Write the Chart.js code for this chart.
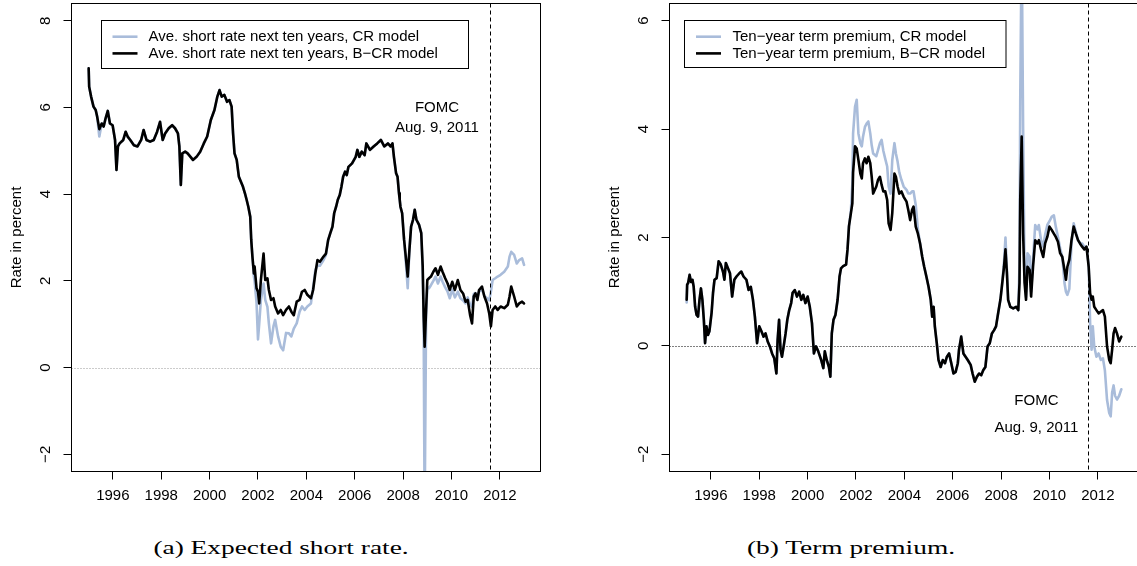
<!DOCTYPE html>
<html><head><meta charset="utf-8">
<script src="https://cdn.jsdelivr.net/npm/chart.js@4"></script>
<style>
html,body{margin:0;padding:0;background:#fff;overflow:hidden;width:1137px;height:566px;}
#ca{position:absolute;left:0;top:0;}
#cb{position:absolute;left:568px;top:0;}
.cap{position:absolute;top:536px;font-family:"Liberation Serif","DejaVu Serif",serif;font-size:19px;color:#000;white-space:nowrap;transform:translateX(-50%) scaleX(1.44);line-height:24px;}
</style></head><body>
<canvas id="ca" width="568" height="520"></canvas>
<canvas id="cb" width="580" height="520"></canvas>
<div class="cap" style="left:281px">(a) Expected short rate.</div>
<div class="cap" style="left:851px">(b) Term premium.</div>
<script>
// ---------- axis settings ----------
const xTicks = [1996,1998,2000,2002,2004,2006,2008,2010,2012];
const xMin = 1994.29, xMax = 2013.68;
const fomcDate = 2011.61;
const yTicksA = [-2,0,2,4,6,8];
const yTicksB = [-2,0,2,4,6];
const legendA = ["Ave. short rate next ten years, CR model","Ave. short rate next ten years, B\u2212CR model"];
const legendB = ["Ten\u2212year term premium, CR model","Ten\u2212year term premium, B\u2212CR model"];
const fomcLabel = ["FOMC","Aug. 9, 2011"];

// ---------- (a) expected short rate ----------
const datesA = [
1995.00,1995.02,1995.10,1995.20,1995.29,1995.35,1995.44,1995.54,1995.62,1995.70,1995.79,1995.88,1995.99,
1996.09,1996.15,1996.21,1996.28,1996.43,1996.53,1996.62,1996.72,1996.87,
1997.02,1997.17,1997.27,1997.39,1997.54,1997.69,1997.83,1997.95,
1998.06,1998.16,1998.31,1998.45,1998.57,1998.69,1998.75,1998.81,1998.87,1998.99,
1999.09,1999.21,1999.31,1999.46,1999.61,1999.76,1999.90,
2000.05,2000.20,2000.32,2000.41,2000.50,2000.61,2000.72,2000.82,2000.91,2000.97,
2001.03,2001.12,2001.21,2001.29,2001.38,2001.46,2001.53,2001.60,2001.68,2001.72,2001.77,2001.83,2001.86,2001.94,
2002.00,2002.05,2002.12,2002.23,2002.30,2002.39,2002.45,2002.54,2002.64,2002.71,2002.83,2002.94,
2003.04,2003.16,2003.28,2003.38,2003.48,2003.60,2003.72,2003.82,2003.93,
2004.04,2004.19,2004.28,2004.37,2004.46,2004.56,2004.71,2004.81,2004.90,2004.99,
2005.08,2005.15,2005.23,2005.30,2005.38,2005.45,2005.52,2005.60,2005.67,2005.74,2005.89,
2006.04,2006.11,2006.19,2006.29,2006.41,2006.48,2006.63,2006.78,2006.93,
2007.08,2007.22,2007.37,2007.48,2007.56,2007.62,2007.71,2007.77,2007.83,2007.86,2007.89,2007.96,
2008.04,2008.11,2008.19,2008.26,2008.33,2008.41,2008.48,2008.55,2008.66,2008.75,2008.81,2008.85,2008.89,2008.95,
2009.00,2009.07,2009.15,2009.25,2009.34,2009.44,2009.55,2009.63,2009.74,2009.84,2009.93,
2010.03,2010.14,2010.26,2010.37,2010.48,2010.58,2010.67,2010.77,2010.85,2010.92,2010.99,
2011.07,2011.14,2011.26,2011.36,2011.47,2011.56,2011.63,2011.70,2011.81,2011.91,
2012.03,2012.18,2012.33,2012.40,2012.47,2012.59,2012.70,2012.80,2012.92,2013.00];
const shortBCR = [
6.90,6.48,6.25,6.02,5.94,5.79,5.50,5.63,5.56,5.75,5.92,5.63,5.59,
5.25,4.56,5.10,5.17,5.25,5.44,5.32,5.25,5.13,
5.10,5.25,5.48,5.25,5.21,5.25,5.44,5.67,
5.25,5.40,5.52,5.59,5.52,5.40,5.10,4.21,4.94,4.98,
4.94,4.86,4.79,4.86,4.98,5.17,5.33,
5.71,5.94,6.25,6.40,6.25,6.29,6.13,6.17,6.02,5.40,
4.94,4.79,4.40,4.29,4.17,4.02,3.87,3.71,3.48,2.95,2.56,2.17,2.33,1.83,
1.75,1.48,2.02,2.63,2.02,2.06,1.79,1.56,1.60,1.41,1.25,1.33,
1.21,1.33,1.41,1.29,1.21,1.52,1.56,1.75,1.79,
1.68,1.60,1.79,2.17,2.48,2.44,2.56,2.63,2.94,3.10,
3.25,3.56,3.71,3.87,3.98,4.17,4.40,4.52,4.44,4.63,4.71,
4.86,5.02,4.86,4.98,4.90,5.17,5.02,5.10,5.17,
5.25,5.10,5.17,5.10,5.17,4.86,4.48,4.40,4.02,3.87,3.71,3.56,
2.95,2.56,2.10,2.71,3.25,3.41,3.64,3.41,3.29,3.10,2.33,1.18,0.48,1.33,
2.02,2.06,2.10,2.21,2.29,2.14,2.33,2.21,2.06,1.94,1.79,
1.98,1.79,2.02,1.79,1.71,1.52,1.56,1.21,1.02,1.64,1.71,
1.56,1.79,1.87,1.64,1.48,1.25,0.95,1.33,1.41,1.33,
1.41,1.37,1.45,1.64,1.87,1.64,1.41,1.48,1.52,1.48];
const shortCR = [
6.90,6.48,6.25,6.02,5.94,5.79,5.33,5.63,5.56,5.75,5.92,5.63,5.59,
5.25,4.56,5.10,5.17,5.25,5.44,5.32,5.25,5.13,
5.10,5.25,5.48,5.25,5.21,5.25,5.44,5.67,
5.25,5.40,5.52,5.59,5.52,5.40,5.10,4.21,4.94,4.98,
4.94,4.86,4.79,4.86,4.98,5.17,5.33,
5.71,5.94,6.25,6.40,6.25,6.29,6.13,6.17,6.02,5.40,
4.94,4.79,4.40,4.29,4.17,4.02,3.87,3.71,3.48,2.95,2.56,2.10,2.00,1.50,
0.65,1.00,1.56,1.94,1.56,1.40,1.02,0.56,0.95,1.10,0.72,0.48,
0.40,0.80,0.79,0.72,0.90,1.02,1.29,1.41,1.33,
1.41,1.48,1.85,2.25,2.35,2.35,2.48,2.60,2.94,3.10,
3.25,3.56,3.71,3.87,3.98,4.17,4.40,4.52,4.44,4.63,4.71,
4.86,5.02,4.86,4.98,4.90,5.17,5.02,5.10,5.17,
5.25,5.10,5.17,5.10,5.17,4.86,4.48,4.40,4.02,3.87,3.71,3.56,
2.95,2.45,1.83,2.71,3.25,3.41,3.64,3.41,3.29,3.10,2.20,1.00,-3.50,1.20,
1.85,1.83,1.90,2.00,2.10,1.94,2.10,1.98,1.85,1.75,1.60,
1.80,1.62,1.75,1.60,1.55,1.48,1.62,1.45,1.40,1.70,1.72,
1.62,1.75,1.80,1.65,1.60,1.55,1.75,2.02,2.06,2.10,
2.14,2.21,2.33,2.56,2.67,2.60,2.40,2.48,2.52,2.37];

// ---------- (b) term premium ----------
const datesB = [
1995.00,1995.02,1995.06,1995.12,1995.18,1995.24,1995.29,1995.35,1995.41,1995.47,1995.53,1995.59,1995.65,1995.71,1995.76,1995.82,1995.88,1995.94,
1996.03,1996.09,1996.15,1996.24,1996.32,1996.41,1996.50,1996.56,1996.62,1996.71,1996.79,1996.88,1996.97,
1997.06,1997.18,1997.26,1997.35,1997.47,1997.56,1997.65,1997.74,1997.82,1997.91,
1998.00,1998.09,1998.18,1998.26,1998.35,1998.44,1998.53,1998.62,1998.71,1998.76,1998.82,1998.88,1998.94,
1999.01,1999.09,1999.16,1999.24,1999.32,1999.38,1999.47,1999.56,1999.65,1999.74,1999.82,1999.91,
2000.00,2000.09,2000.18,2000.26,2000.35,2000.44,2000.56,2000.65,2000.71,2000.79,2000.88,2000.94,
2001.00,2001.07,2001.15,2001.24,2001.32,2001.38,2001.47,2001.59,2001.65,2001.71,2001.79,2001.85,2001.88,2001.96,
2002.03,2002.10,2002.18,2002.24,2002.29,2002.37,2002.44,2002.51,2002.59,2002.65,2002.71,2002.84,2002.91,2002.99,
2003.06,2003.13,2003.21,2003.29,2003.35,2003.43,2003.50,2003.59,2003.65,2003.72,2003.79,2003.88,2003.97,
2004.09,2004.16,2004.24,2004.32,2004.38,2004.47,2004.56,2004.65,2004.74,2004.82,2004.91,
2005.00,2005.09,2005.15,2005.21,2005.26,2005.34,2005.41,2005.50,2005.59,2005.68,2005.76,2005.85,2005.94,
2006.03,2006.12,2006.21,2006.26,2006.35,2006.44,2006.53,2006.62,2006.74,2006.82,2006.91,
2007.00,2007.09,2007.18,2007.26,2007.35,2007.44,2007.53,2007.62,2007.71,2007.79,2007.88,2007.97,
2008.03,2008.12,2008.18,2008.24,2008.29,2008.38,2008.50,2008.62,2008.71,2008.76,2008.79,2008.85,2008.91,2008.97,
2009.03,2009.09,2009.18,2009.24,2009.32,2009.41,2009.50,2009.56,2009.65,2009.74,2009.82,2009.91,
2010.00,2010.09,2010.18,2010.26,2010.35,2010.44,2010.53,2010.62,2010.68,2010.74,2010.82,2010.91,
2011.00,2011.09,2011.18,2011.26,2011.35,2011.44,2011.53,2011.62,2011.68,2011.74,2011.79,2011.85,2011.94,
2012.03,2012.12,2012.21,2012.29,2012.38,2012.47,2012.53,2012.59,2012.65,2012.71,2012.79,2012.88,2012.97];
const premBCR = [
0.85,1.13,1.16,1.31,1.18,1.22,1.09,0.72,0.57,0.54,0.85,1.06,0.85,0.48,0.05,0.36,0.20,0.27,
0.61,0.98,1.22,1.25,1.56,1.50,1.37,1.22,1.53,1.43,1.34,0.91,1.22,
1.28,1.34,1.37,1.28,1.22,1.03,1.09,0.85,0.54,0.05,
0.36,0.27,0.17,0.23,0.08,-0.01,-0.14,-0.23,-0.51,0.11,0.48,-0.07,-0.20,
-0.01,0.23,0.48,0.66,0.79,0.98,1.03,0.91,1.00,0.85,0.94,0.79,
0.91,0.72,0.42,-0.14,-0.01,-0.10,-0.26,-0.41,-0.10,-0.26,-0.39,-0.57,
0.23,0.48,0.57,0.85,1.28,1.43,1.47,1.50,1.78,2.21,2.45,2.63,3.20,3.68,
3.64,3.43,3.18,3.09,3.37,3.46,3.37,3.49,3.37,3.12,2.81,2.94,3.06,3.12,
2.97,2.85,2.85,2.69,2.26,2.14,2.45,3.18,3.12,2.94,2.81,2.85,2.75,
2.66,2.51,2.32,2.51,2.57,2.20,2.07,1.89,1.64,1.46,1.28,
1.09,0.85,0.54,0.72,0.36,0.05,-0.26,-0.39,-0.26,-0.32,-0.20,-0.14,-0.32,
-0.51,-0.48,-0.32,-0.07,0.17,-0.14,-0.20,-0.26,-0.35,-0.51,-0.66,
-0.57,-0.51,-0.54,-0.45,-0.39,-0.01,0.05,0.23,0.29,0.36,0.61,0.85,
1.09,1.46,1.78,1.34,0.85,0.72,0.69,0.72,0.66,1.16,2.69,3.86,2.07,1.16,
0.85,1.46,1.40,0.91,1.46,1.95,1.89,1.95,1.78,1.64,1.89,2.01,
2.20,2.14,2.07,2.01,1.92,1.71,1.64,1.40,1.22,1.46,1.59,1.95,
2.20,2.07,1.95,1.89,1.83,1.78,1.83,1.46,0.97,0.85,0.91,0.72,0.66,
0.60,0.63,0.66,0.54,-0.01,-0.26,-0.32,-0.07,0.23,0.33,0.23,0.08,0.17];
const premCR = [
0.80,1.13,1.16,1.31,1.18,1.22,1.09,0.72,0.57,0.54,0.85,1.06,0.85,0.48,0.05,0.36,0.20,0.27,
0.61,0.98,1.22,1.25,1.56,1.50,1.37,1.22,1.53,1.43,1.34,0.91,1.22,
1.28,1.34,1.37,1.28,1.22,1.03,1.09,0.85,0.54,0.05,
0.36,0.27,0.17,0.23,0.08,-0.01,-0.14,-0.23,-0.51,0.11,0.48,-0.07,-0.20,
-0.01,0.23,0.48,0.66,0.79,0.98,1.03,0.91,1.00,0.85,0.94,0.79,
0.91,0.72,0.42,-0.14,-0.01,-0.10,-0.26,-0.41,-0.10,-0.26,-0.39,-0.57,
0.23,0.48,0.57,0.85,1.28,1.43,1.47,1.50,1.78,2.21,2.50,3.00,3.92,4.41,
4.54,3.92,3.74,3.68,3.86,4.04,4.10,4.14,3.92,3.70,3.55,3.50,3.61,3.74,
3.80,3.60,3.45,3.31,2.94,2.81,3.43,3.74,3.55,3.40,3.20,3.06,2.94,
2.88,2.81,2.81,2.85,2.85,2.60,2.15,1.89,1.64,1.46,1.28,
1.09,0.85,0.54,0.72,0.36,0.05,-0.26,-0.39,-0.26,-0.32,-0.20,-0.14,-0.32,
-0.51,-0.48,-0.32,-0.07,0.17,-0.14,-0.20,-0.26,-0.35,-0.51,-0.66,
-0.57,-0.51,-0.54,-0.45,-0.39,-0.01,0.05,0.23,0.29,0.36,0.61,0.85,
1.09,1.55,2.00,1.40,0.85,0.72,0.69,0.72,0.66,1.50,4.50,7.50,4.00,1.30,
0.90,1.71,1.65,1.00,1.60,2.23,2.15,2.23,1.95,1.83,2.05,2.23,
2.30,2.38,2.41,2.20,2.01,1.80,1.64,1.16,1.00,0.94,1.05,1.89,
2.26,2.10,1.95,1.90,1.89,1.83,1.83,1.50,0.42,-0.07,0.36,-0.01,-0.20,
-0.14,-0.26,-0.23,-0.45,-1.00,-1.24,-1.30,-0.86,-0.73,-0.92,-0.99,-0.92,-0.80];

// ---------- drawing ----------
const FONT = '"Liberation Sans", Arial, Helvetica, sans-serif';
const BLUE = '#a9bcda';
const LW = 2.6;

function rPlugin(o){
  return {
    id:'rstyle',
    beforeDatasetsDraw(chart){
      const {ctx, chartArea:a, scales:{x,y}} = chart;
      ctx.save();
      ctx.beginPath(); ctx.rect(a.left,a.top,a.right-a.left,a.bottom-a.top); ctx.clip();
      const y0 = Math.round(y.getPixelForValue(0)) + 0.5;
      ctx.strokeStyle = o.zeroColor; ctx.lineWidth = 1; ctx.setLineDash([1,2]);
      ctx.beginPath(); ctx.moveTo(a.left,y0); ctx.lineTo(a.right,y0); ctx.stroke();
      ctx.restore();
    },
    afterDatasetsDraw(chart){
      const {ctx, chartArea:a, scales:{x,y}} = chart;
      ctx.save();
      ctx.beginPath(); ctx.rect(a.left,a.top,a.right-a.left,a.bottom-a.top); ctx.clip();
      const xv = Math.round(x.getPixelForValue(fomcDate)) + 0.5;
      ctx.strokeStyle = '#000'; ctx.lineWidth = 1; ctx.setLineDash([4,3]);
      ctx.beginPath(); ctx.moveTo(xv,a.top); ctx.lineTo(xv,a.bottom); ctx.stroke();
      ctx.restore();
      ctx.save();
      ctx.strokeStyle = '#000'; ctx.lineWidth = 1;
      ctx.strokeRect(a.left, a.top, a.right-a.left, a.bottom-a.top);
      const L = o.legend;
      ctx.fillStyle = '#fff';
      ctx.fillRect(L.x, L.y, L.w, L.h);
      ctx.strokeRect(L.x, L.y, L.w, L.h);
      ctx.font = '15px ' + FONT; ctx.textBaseline = 'middle'; ctx.textAlign = 'left';
      const cols = [BLUE, '#000'];
      for (let i=0;i<2;i++){
        const ly = L.y + L.row0 + i*L.dy;
        ctx.strokeStyle = cols[i]; ctx.lineWidth = LW;
        ctx.beginPath(); ctx.moveTo(L.x+L.s0, ly); ctx.lineTo(L.x+L.s1, ly); ctx.stroke();
        ctx.fillStyle = '#000';
        ctx.fillText(o.legendText[i], L.x+L.tx, ly+0.5);
      }
      ctx.textAlign = 'center';
      const fx = x.getPixelForValue(o.fomcX);
      ctx.fillText(fomcLabel[0], fx, y.getPixelForValue(o.fomcY[0]));
      ctx.fillText(fomcLabel[1], fx, y.getPixelForValue(o.fomcY[1]));
      for (const v of o.yTicks){
        const py = y.getPixelForValue(v);
        ctx.save();
        ctx.translate(a.left - 25.5, py);
        ctx.rotate(-Math.PI/2);
        ctx.fillText(v < 0 ? '\u2212' + Math.abs(v) : String(v), 0, 0);
        ctx.restore();
      }
      ctx.save();
      ctx.translate(a.left - 54.5, (a.top + a.bottom)/2);
      ctx.rotate(-Math.PI/2);
      ctx.fillText('Rate in percent', 0, 0);
      ctx.restore();
      ctx.restore();
    }
  };
}

function makeChart(id, dates, bcr, cr, o){
  const ctx = document.getElementById(id);
  const pts = arr => dates.map((d,i)=>({x:d, y:arr[i]}));
  const gridCfg = {display:true, drawOnChartArea:false, drawTicks:true, tickLength:8, color:'#000', lineWidth:1};
  return new Chart(ctx, {
    type:'line',
    data:{datasets:[
      {data:pts(bcr), borderColor:'#000', borderWidth:LW, pointRadius:0, tension:0, clip:0, borderJoinStyle:'round', borderCapStyle:'round'},
      {data:pts(cr), borderColor:BLUE, borderWidth:LW, pointRadius:0, tension:0, clip:0, borderJoinStyle:'round', borderCapStyle:'round'}
    ]},
    options:{
      responsive:false, animation:false, events:[],
      layout:{padding:{left:0, top:3.5, right:o.padRight, bottom:0}},
      plugins:{legend:{display:false}, tooltip:{enabled:false}},
      scales:{
        x:{type:'linear', min:xMin, max:xMax,
           afterBuildTicks:s=>{ s.ticks = xTicks.map(v=>({value:v})); },
           afterFit:s=>{ s.height = 48.5; },
           grid:gridCfg, border:{display:false},
           ticks:{color:'#000', font:{family:FONT, size:15}, padding:7, autoSkip:false, maxRotation:0, minRotation:0, callback:v=>String(v)}},
        y:{type:'linear', min:o.yMin, max:o.yMax,
           afterBuildTicks:s=>{ s.ticks = o.yTicks.map(v=>({value:v})); },
           afterFit:s=>{ s.width = o.axisW; },
           grid:gridCfg, border:{display:false},
           ticks:{display:false}}
      }
    },
    plugins:[rPlugin(o)]
  });
}

makeChart('ca', datesA, shortBCR, shortCR, {
  padRight: 568-540.5, axisW: 71.5, yMin:-2.396, yMax:8.397, yTicks:yTicksA,
  zeroColor:'#999',
  legend:{x:101.5, y:20.5, w:367, h:48, row0:16.2, dy:16.7, s0:11, s1:36, tx:47},
  legendText: legendA,
  fomcX: 2009.4, fomcY:[5.99, 5.53]
});
makeChart('cb', datesB, premBCR, premCR, {
  padRight: 580-570.5, axisW: 101.5, yMin:-2.318, yMax:6.317, yTicks:yTicksB,
  zeroColor:'#000',
  legend:{x:116.5, y:20.5, w:321.5, h:47, row0:16.2, dy:16.7, s0:11.5, s1:36.5, tx:48},
  legendText: legendB,
  fomcX: 2009.46, fomcY:[-1.02, -1.51]
});
</script>
</body></html>
